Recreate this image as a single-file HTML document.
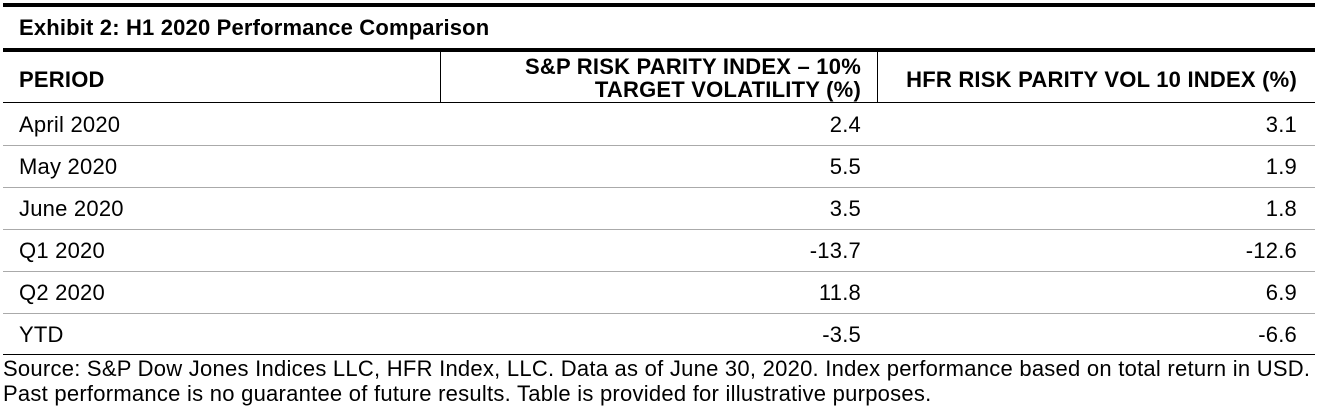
<!DOCTYPE html>
<html><head><meta charset="utf-8">
<style>
html,body{margin:0;padding:0;background:#fff;}
body{width:1320px;height:409px;position:relative;overflow:hidden;font-family:"Liberation Sans",Arial,sans-serif;color:#000;}
.a{position:absolute;}
.ln{position:absolute;left:3px;width:1312px;}
.t{position:absolute;font-size:22px;line-height:26px;white-space:nowrap;letter-spacing:0.22px;}
.b{font-weight:bold;}
.r{text-align:right;}
</style></head><body>
<div class="ln" style="top:3px;height:4px;background:#000;"></div>
<div class="t b" style="left:19px;top:14.5px;letter-spacing:0.17px;">Exhibit 2: H1 2020 Performance Comparison</div>
<div class="ln" style="top:48px;height:4px;background:#000;"></div>
<div class="a" style="left:440px;top:52px;width:1px;height:51px;background:#000;"></div>
<div class="a" style="left:877px;top:52px;width:1px;height:51px;background:#000;"></div>
<div class="t b" style="left:19px;top:66.5px;">PERIOD</div>
<div class="t b r" style="right:459px;top:55px;line-height:23px;">S&amp;P RISK PARITY INDEX – 10%<br>TARGET VOLATILITY (%)</div>
<div class="t b r" style="right:23px;top:66.5px;">HFR RISK PARITY VOL 10 INDEX (%)</div>
<div class="ln" style="top:102px;height:1px;background:#000;"></div>

<div class="t" style="left:19px;top:111.5px;">April 2020</div>
<div class="t r" style="right:459px;top:111.5px;">2.4</div>
<div class="t r" style="right:23px;top:111.5px;">3.1</div>
<div class="ln" style="top:145px;height:1px;background:#aaa;"></div>

<div class="t" style="left:19px;top:153.5px;">May 2020</div>
<div class="t r" style="right:459px;top:153.5px;">5.5</div>
<div class="t r" style="right:23px;top:153.5px;">1.9</div>
<div class="ln" style="top:187px;height:1px;background:#aaa;"></div>

<div class="t" style="left:19px;top:195.5px;">June 2020</div>
<div class="t r" style="right:459px;top:195.5px;">3.5</div>
<div class="t r" style="right:23px;top:195.5px;">1.8</div>
<div class="ln" style="top:229px;height:1px;background:#aaa;"></div>

<div class="t" style="left:19px;top:237.5px;">Q1 2020</div>
<div class="t r" style="right:459px;top:237.5px;">-13.7</div>
<div class="t r" style="right:23px;top:237.5px;">-12.6</div>
<div class="ln" style="top:271px;height:1px;background:#aaa;"></div>

<div class="t" style="left:19px;top:279.5px;">Q2 2020</div>
<div class="t r" style="right:459px;top:279.5px;">11.8</div>
<div class="t r" style="right:23px;top:279.5px;">6.9</div>
<div class="ln" style="top:313px;height:1px;background:#aaa;"></div>

<div class="t" style="left:19px;top:321.5px;">YTD</div>
<div class="t r" style="right:459px;top:321.5px;">-3.5</div>
<div class="t r" style="right:23px;top:321.5px;">-6.6</div>
<div class="ln" style="top:354px;height:1px;background:#000;"></div>

<div class="t" style="left:3px;top:355.5px;line-height:25.5px;letter-spacing:0.25px;">Source: S&amp;P Dow Jones Indices LLC, HFR Index, LLC. Data as of June 30, 2020. Index performance based on total return in USD.<br>Past performance is no guarantee of future results. Table is provided for illustrative purposes.</div>
</body></html>
